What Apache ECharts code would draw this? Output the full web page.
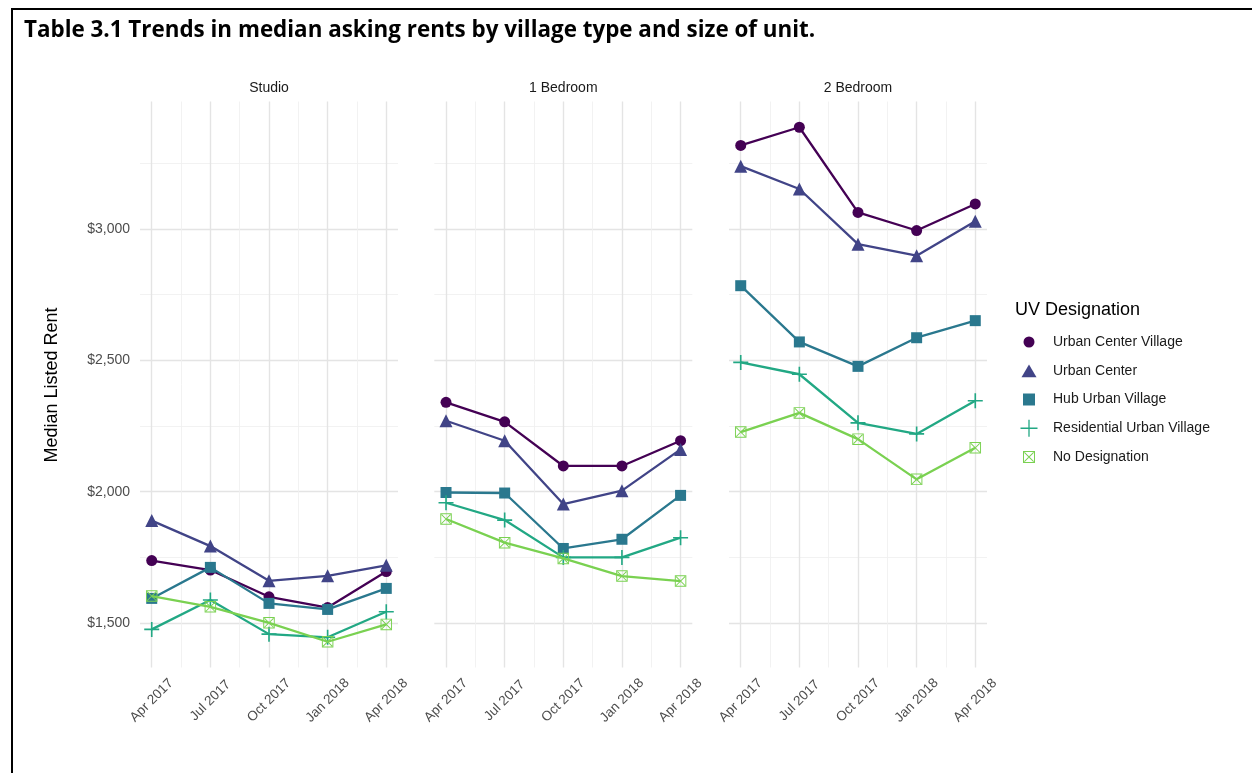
<!DOCTYPE html>
<html>
<head>
<meta charset="utf-8">
<script src="https://cdn.jsdelivr.net/npm/echarts@6/dist/echarts.min.js"></script>
<style>
html,body{margin:0;padding:0;background:#fff;}
#chart{width:1252px;height:773px;}
</style>
</head>
<body>
<div id="chart"></div>
<script>
// ---- data ----
const xTickLabels = ['Apr 2017', 'Jul 2017', 'Oct 2017', 'Jan 2018', 'Apr 2018'];
const panels = ['Studio', '1 Bedroom', '2 Bedroom'];
const designations = ['Urban Center Village', 'Urban Center', 'Hub Urban Village', 'Residential Urban Village', 'No Designation'];

const studioUCV = [1738, 1702, 1600, 1559, 1696];
const studioUC  = [1890, 1793, 1661, 1680, 1720];
const studioHub = [1594, 1712, 1575, 1552, 1632];
const studioRes = [1476, 1588, 1458, 1446, 1543];
const studioND  = [1603, 1562, 1501, 1429, 1495];

const bed1UCV = [2340, 2266, 2098, 2098, 2194];
const bed1UC  = [2270, 2194, 1953, 2004, 2161];
const bed1Hub = [1997, 1995, 1784, 1819, 1986];
const bed1Res = [1958, 1892, 1750, 1750, 1825];
const bed1ND  = [1896, 1806, 1746, 1679, 1660];

const bed2UCV = [3318, 3387, 3063, 2994, 3095];
const bed2UC  = [3239, 3152, 2942, 2898, 3029];
const bed2Hub = [2784, 2570, 2477, 2586, 2651];
const bed2Res = [2492, 2447, 2262, 2220, 2346];
const bed2ND  = [2227, 2300, 2200, 2047, 2167];

const panelData = [
  [studioUCV, studioUC, studioHub, studioRes, studioND],
  [bed1UCV, bed1UC, bed1Hub, bed1Res, bed1ND],
  [bed2UCV, bed2UC, bed2Hub, bed2Res, bed2ND]
];

// ---- styling ----
const colors = ['#440154', '#414487', '#2A788E', '#22A884', '#7AD151'];
const plusPath = 'path://M5.35,0H6.65V5.35H12V6.65H6.65V12H5.35V6.65H0V5.35H5.35Z';
const boxXPath = 'path://M0,0H12V12H0Z M1,1V11H11V1Z M1,1.7L1.7,1L11,10.3L10.3,11Z M10.3,1L11,1.7L1.7,11L1,10.3Z';
const symbols = ['circle', 'triangle', 'rect', plusPath, boxXPath];
const symbolSizes = [11, 13, 11, 15, 11.5];

// legend icons in a 17x17 box (corner moveTo points keep the box size)
const legendIcons = [
  'path://M0,0M17,17M14,8.5A5.5,5.5,0,1,1,3,8.5A5.5,5.5,0,1,1,14,8.5Z',
  'path://M0,0M17,17M8.5,2.2L16,15L1,15Z',
  'path://M0,0M17,17M2.5,2.5H14.5V14.5H2.5Z',
  'path://M7.85,0H9.15V7.85H17V9.15H9.15V17H7.85V9.15H0V7.85H7.85Z',
  'path://M0,0M17,17M2.5,2.5H14.5V14.5H2.5Z M3.5,3.5V13.5H13.5V3.5Z M3.5,4.2L4.2,3.5L13.5,12.8L12.8,13.5Z M12.8,3.5L13.5,4.2L4.2,13.5L3.5,12.8Z'
];

const FONT = '"Liberation Sans", Arial, Helvetica, sans-serif';
const gridLefts = [140, 434.3, 729];
const gridTop = 101.5, gridH = 566, gridW = 258;

const grids = [], xAxes = [], yAxes = [], series = [];
panels.forEach((p, gi) => {
  grids.push({left: gridLefts[gi], top: gridTop, width: gridW, height: gridH});
  xAxes.push({
    type: 'value', gridIndex: gi, min: -0.2, max: 4.2,
    axisLine: {show: false}, axisTick: {show: false},
    minorTick: {show: false, splitNumber: 2},
    splitLine: {show: true, showMinLine: false, showMaxLine: false, lineStyle: {color: '#e4e4e4', width: 1.4}},
    minorSplitLine: {show: true, lineStyle: {color: '#efefef', width: 0.8}},
    axisLabel: {
      rotate: 45, margin: 33, align: 'center', verticalAlign: 'middle',
      color: '#4d4d4d', fontSize: 13.5, fontFamily: FONT,
      showMinLabel: false, showMaxLabel: false,
      formatter: v => (Math.abs(v - Math.round(v)) < 1e-6 && v >= 0 && v <= 4) ? xTickLabels[Math.round(v)] : ''
    }
  });
  yAxes.push({
    type: 'value', gridIndex: gi, min: 1331, max: 3485,
    axisLine: {show: false}, axisTick: {show: false},
    minorTick: {show: false, splitNumber: 2},
    splitLine: {show: true, showMinLine: false, showMaxLine: false, lineStyle: {color: '#e4e4e4', width: 1.4}},
    minorSplitLine: {show: true, lineStyle: {color: '#efefef', width: 0.8}},
    axisLabel: {
      show: gi === 0, margin: 10, color: '#4d4d4d', fontSize: 14, fontFamily: FONT,
      showMinLabel: false, showMaxLabel: false,
      formatter: v => (v % 500 === 0) ? '$' + v.toLocaleString('en-US') : ''
    }
  });
  panelData[gi].forEach((vals, si) => {
    series.push({
      name: designations[si], type: 'line',
      xAxisIndex: gi, yAxisIndex: gi,
      data: vals.map((v, i) => [i, v]),
      symbol: symbols[si], symbolSize: symbolSizes[si],
      showAllSymbol: true,
      lineStyle: {color: colors[si], width: 2.3},
      itemStyle: {color: colors[si]},
      emphasis: {disabled: true},
      animation: false, z: 2 + si
    });
  });
});

const graphics = [
  {type: 'line', shape: {x1: 11, y1: 9, x2: 1252, y2: 9}, style: {stroke: '#000', lineWidth: 2}},
  {type: 'line', shape: {x1: 12, y1: 8, x2: 12, y2: 773}, style: {stroke: '#000', lineWidth: 2}},
  {type: 'text', style: {text: 'Table 3.1 Trends in median asking rents by village type and size of unit.', x: 24, y: 31,
    font: 'bold 22.4px "Open Sans", "Noto Sans", sans-serif', fill: '#000', textAlign: 'left', textVerticalAlign: 'middle'}},
  {type: 'text', rotation: Math.PI / 2, x: 52, y: 385, style: {text: 'Median Listed Rent', x: 0, y: 0,
    font: '18px ' + FONT, fill: '#000', textAlign: 'center', textVerticalAlign: 'middle'}},
  {type: 'text', style: {text: 'UV Designation', x: 1015, y: 310, font: '18px ' + FONT, fill: '#000',
    textAlign: 'left', textVerticalAlign: 'middle'}}
];
panels.forEach((p, gi) => {
  graphics.push({type: 'text', style: {text: p, x: gridLefts[gi] + gridW / 2, y: 88, font: '14px ' + FONT,
    fill: '#1a1a1a', textAlign: 'center', textVerticalAlign: 'middle'}});
});

const chart = echarts.init(document.getElementById('chart'), null, {renderer: 'canvas'});
chart.setOption({
  animation: false,
  backgroundColor: '#fff',
  grid: grids, xAxis: xAxes, yAxis: yAxes, series: series,
  legend: {
    orient: 'vertical', left: 1020.5, top: 333.5, padding: 0,
    itemWidth: 17, itemHeight: 17, itemGap: 11.75,
    selectedMode: false,
    textStyle: {fontSize: 14, fontFamily: FONT, color: '#1a1a1a', lineHeight: 14, padding: [0, 0, 0, 10.5]},
    data: designations.map((d, i) => ({name: d, icon: legendIcons[i], itemStyle: {color: colors[i]}}))
  },
  graphic: graphics
});
</script>
</body>
</html>
